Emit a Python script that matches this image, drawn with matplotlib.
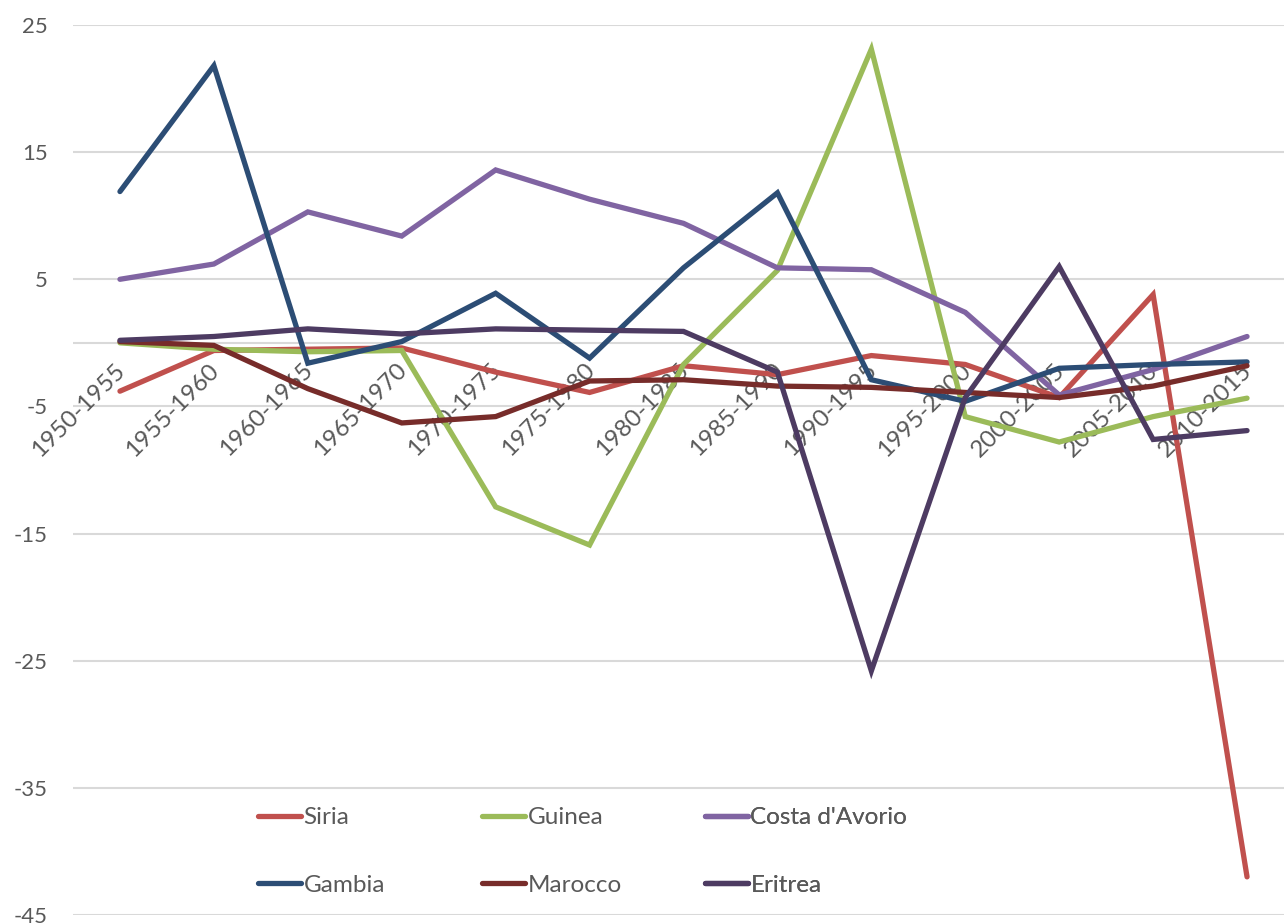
import matplotlib.pyplot as plt
import numpy as np

# Data
periods = ['1950-1955', '1955-1960', '1960-1965', '1965-1970', '1970-1975',
           '1975-1980', '1980-1985', '1985-1990', '1990-1995', '1995-2000',
           '2000-2005', '2005-2010', '2010-2015']

siria = [-3.8, -0.6, -0.5, -0.4, -2.3, -3.9, -1.8, -2.5, -1.0, -1.7, -4.3, 3.8, -42.0]
guinea = [0.0, -0.5, -0.7, -0.6, -12.9, -15.9, -1.7, 5.7, 23.1, -5.8, -7.8, -5.8, -4.35]
costa = [5.0, 6.2, 10.3, 8.4, 13.6, 11.3, 9.4, 5.9, 5.75, 2.4, -4.1, -2.1, 0.5]
gambia = [11.9, 21.8, -1.6, 0.1, 3.9, -1.2, 5.9, 11.8, -2.9, -4.6, -2.0, -1.7, -1.5]
marocco = [0.1, -0.2, -3.6, -6.3, -5.8, -3.0, -2.9, -3.4, -3.5, -3.9, -4.3, -3.4, -1.8]
eritrea = [0.2, 0.5, 1.1, 0.7, 1.1, 1.0, 0.9, -2.3, -25.8, -4.3, 6.0, -7.6, -6.9]

series = [
    ('Siria', siria, '#C0504D'),
    ('Guinea', guinea, '#9BBB59'),
    ("Costa d'Avorio", costa, '#8064A2'),
    ('Gambia', gambia, '#2C4D75'),
    ('Marocco', marocco, '#772C2A'),
    ('Eritrea', eritrea, '#4D3B62'),
]

plt.rcParams['font.family'] = ['Lato', 'DejaVu Sans']
text_color = '#595959'
grid_color = '#D9D9D9'

fig = plt.figure(figsize=(12.84, 9.24), dpi=100)
ax = fig.add_axes([73 / 1284, 9 / 924, (1294 - 73) / 1284, (915 - 25) / 924])

x = np.arange(len(periods))
lines = {}
for name, vals, color in series:
    ln, = ax.plot(x, vals, color=color, linewidth=3.8, label=name,
                  solid_capstyle='round', solid_joinstyle='miter', zorder=3)
    lines[name] = ln

ax.set_xlim(-0.5, len(periods) - 0.5)
ax.set_ylim(-45, 25)
ax.set_yticks(np.arange(-45, 26, 10))
ax.set_yticklabels([str(v) for v in range(-45, 26, 10)])
ax.yaxis.grid(True, color=grid_color, linewidth=1.5)
ax.set_axisbelow(True)
ax.axhline(0, color=grid_color, linewidth=1.5, zorder=1)

for s in ['top', 'right', 'left', 'bottom']:
    ax.spines[s].set_visible(False)

ax.tick_params(axis='y', length=0, labelsize=16, labelcolor=text_color, pad=18)
ax.set_xticks(x)
ax.set_xticklabels([])
ax.tick_params(axis='x', length=0)

# category labels sit under the zero line, rotated
for i, p in enumerate(periods):
    ax.annotate(p, xy=(i, 0), xytext=(-4, -12), textcoords='offset points',
                rotation=45, ha='right', va='top', rotation_mode='anchor',
                fontsize=17.5, color=text_color, zorder=2)

# legend: three columns of two rows each
cols = [['Siria', 'Gambia'], ['Guinea', 'Marocco'], ["Costa d'Avorio", 'Eritrea']]
col_x = [258, 482, 705]
for cx, names in zip(col_x, cols):
    leg = ax.legend([lines[n] for n in names], names, loc='upper left',
                    bbox_to_anchor=(cx / 1284, 1 - 807 / 924),
                    bbox_transform=fig.transFigure, frameon=False,
                    fontsize=17.5, handlelength=1.75, handletextpad=0.12,
                    labelspacing=1.93, borderpad=0, borderaxespad=0)
    for t in leg.get_texts():
        t.set_color(text_color)
    ax.add_artist(leg)

fig.savefig('out.png', dpi=100)
